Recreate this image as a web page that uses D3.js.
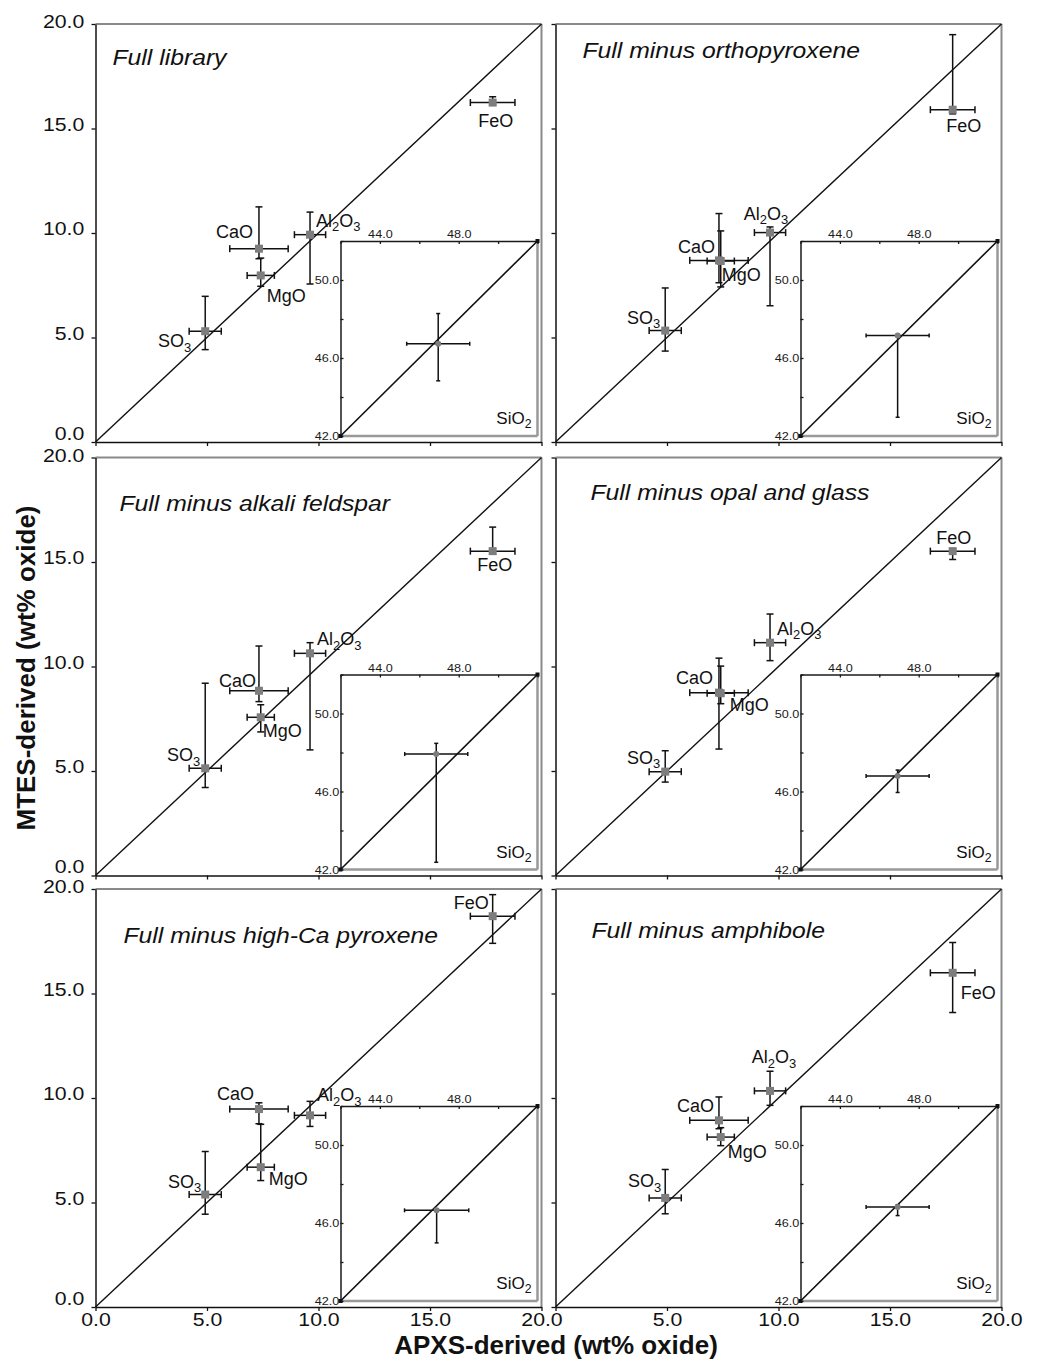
<!DOCTYPE html>
<html>
<head>
<meta charset="utf-8">
<script src="https://cdn.jsdelivr.net/npm/d3@7"></script>
<style>
  body { margin: 0; background: #fff; }
  svg { display: block; }
  text { font-family: "Liberation Sans", Arial, Helvetica, sans-serif; }
</style>
</head>
<body>
<svg id="chart" width="1041" height="1361"></svg>
<script>
// ---- data -------------------------------------------------------------
const panelTitles = [
  "Full library",
  "Full minus orthopyroxene",
  "Full minus alkali feldspar",
  "Full minus opal and glass",
  "Full minus high-Ca pyroxene",
  "Full minus amphibole"
];

const oxides = ["SO3", "CaO", "MgO", "Al2O3", "FeO"];

// APXS-derived abundances (wt% oxide) and their uncertainties
const apxsValues = [4.92, 7.33, 7.41, 9.62, 17.81];
const apxsErrors = [0.72, 1.31, 0.61, 0.70, 1.00];

// MTES-derived abundances for each library, in oxide order
const mtesValues = [
  [5.30, 9.25, 7.97, 9.92, 16.24],
  [5.33, 8.69, 8.66, 10.02, 15.90],
  [5.13, 8.84, 7.57, 10.63, 15.52],
  [4.97, 8.75, 8.72, 11.14, 15.52],
  [5.38, 9.47, 6.69, 9.17, 18.70],
  [5.22, 8.93, 8.13, 10.34, 15.99]
];
const mtesErrPlus = [
  [1.67, 2.00, 0.83, 1.08, 0.28],
  [2.04, 2.24, 1.44, 0.27, 3.59],
  [4.07, 2.14, 0.60, 0.51, 1.15],
  [1.00, 1.65, 1.30, 1.37, 0.10],
  [2.06, 0.30, 2.05, 0.67, 1.03],
  [1.36, 1.12, 0.45, 0.94, 1.45]
];
const mtesErrMinus = [
  [0.88, 0.48, 0.52, 2.36, 0.10],
  [0.98, 1.07, 1.24, 3.50, 0.20],
  [0.92, 0.52, 0.70, 4.62, 0.15],
  [0.50, 2.70, 0.50, 0.86, 0.40],
  [0.94, 0.70, 0.64, 0.53, 1.30],
  [0.76, 0.40, 0.41, 0.69, 1.90]
];

// SiO2 (inset)
const apxsSiO2 = [46.96, 46.93, 46.86, 46.93, 46.88, 46.93];
const apxsSiO2Err = [1.60, 1.60, 1.60, 1.60, 1.63, 1.60];
const mtesSiO2 = [46.73, 47.15, 47.92, 46.80, 46.65, 46.82];
const mtesSiO2Plus = [1.55, 0.05, 0.55, 0.30, 0.05, 0.12];
const mtesSiO2Minus = [1.90, 4.19, 5.55, 0.85, 1.67, 0.44];

const axisTicks = [0, 5, 10, 15, 20];
const insetTicks = [42, 44, 46, 48, 50, 52];
const insetXTickLabels = [44, 48];
const insetYTickLabels = [42, 46, 50];

// ---- layout ----------------------------------------------------------
const colX = [95.5, 555.5];
const rowY = [24, 457.5, 889];
const W = 446, H = 418;
const inset = { left: 245, top: 217, width: 197, height: 195 };

// title anchor (relative to panel) per panel
const titlePos = [[17, 41], [27, 34], [24, 53], [35, 42], [28, 54], [36, 49]];

// oxide label offsets from the marker: [dx, dy, anchor], in oxide order
const labelOffsets = [
  [[-14, 16, "end"], [-6, -11, "end"], [6, 27, "start"], [6, -8, "start"], [3, 24, "middle"]],
  [[-5, -7, "end"], [-4, -7, "end"], [1, 20, "start"], [-4, -13, "middle"], [11, 22, "middle"]],
  [[-5, -7, "end"], [-3, -4, "end"], [2, 20, "start"], [7, -8, "start"], [2, 20, "middle"]],
  [[-5, -8, "end"], [-6, -9, "end"], [9, 18, "start"], [7, -8, "start"], [1, -7, "middle"]],
  [[-4, -7, "end"], [-5, -9, "end"], [8, 18, "start"], [7, -14, "start"], [-4, -7, "end"]],
  [[-4, -11, "end"], [-5, -8, "end"], [7, 21, "start"], [4, -28, "middle"], [8, 26, "start"]]
];

const fmt = d3.format(".1f");
const GRAY_BORDER = "#8a8a8a";
const MARK = "#7d7d7d";

const svg = d3.select("#chart");

// chemical formula with subscripted digits
function writeFormula(textSel, str, size) {
  const parts = str.match(/[A-Za-z]+|\d+/g);
  let sub = false;
  parts.forEach(p => {
    const t = textSel.append("tspan").text(p);
    if (/\d/.test(p)) {
      t.attr("font-size", size * 0.72).attr("dy", sub ? 0 : size * 0.26);
      sub = true;
    } else if (sub) {
      t.attr("dy", -size * 0.26);
      sub = false;
    }
  });
}

function errorBar(g, x1, y1, x2, y2, cap, vertical, width) {
  g.append("line").attr("x1", x1).attr("y1", y1).attr("x2", x2).attr("y2", y2)
    .attr("stroke", "#111").attr("stroke-width", width);
  [[x1, y1], [x2, y2]].forEach(([cx, cy]) => {
    if (vertical) {
      g.append("line").attr("x1", cx - cap).attr("x2", cx + cap).attr("y1", cy).attr("y2", cy)
        .attr("stroke", "#111").attr("stroke-width", width);
    } else {
      g.append("line").attr("x1", cx).attr("x2", cx).attr("y1", cy - cap).attr("y2", cy + cap)
        .attr("stroke", "#111").attr("stroke-width", width);
    }
  });
}

function styleAxis(g, size, sx, color) {
  g.attr("font-size", size).attr("font-family", null);
  g.selectAll("path.domain").attr("stroke", color || "#111").attr("stroke-width", 1.5);
  g.selectAll(".tick line").attr("stroke", color || "#111").attr("stroke-width", 1.3);
  g.selectAll(".tick text").attr("fill", color || "#111").attr("transform", `scale(${sx},1)`);
}

panelTitles.forEach((title, p) => {
  const col = p % 2, row = Math.floor(p / 2);
  const g = svg.append("g").attr("transform", `translate(${colX[col]},${rowY[row]})`);

  const x = d3.scaleLinear().domain([0, 20]).range([0, W]);
  const y = d3.scaleLinear().domain([0, 20]).range([H, 0]);

  // top and right frame
  g.append("line").attr("x1", 0).attr("x2", W).attr("y1", 0).attr("y2", 0)
    .attr("stroke", GRAY_BORDER).attr("stroke-width", 2);
  g.append("line").attr("x1", W).attr("x2", W).attr("y1", 0).attr("y2", H)
    .attr("stroke", GRAY_BORDER).attr("stroke-width", 2);

  // axes
  const yAxis = d3.axisLeft(y).tickValues(axisTicks).tickSize(4).tickPadding(6).tickSizeOuter(0)
    .tickFormat(col === 0 ? fmt : () => "");
  const ya = g.append("g").call(yAxis);
  styleAxis(ya, 19, 1.12);
  ya.selectAll(".tick text").attr("dy", d => d === 0 ? "-0.15em" : (d === 20 ? "0.2em" : "0.1em"));

  const xAxis = d3.axisBottom(x).tickValues(axisTicks).tickSize(4).tickPadding(2).tickSizeOuter(0)
    .tickFormat(row === 2 ? (d => (col === 1 && d === 0) ? "" : fmt(d)) : () => "");
  const xa = g.append("g").attr("transform", `translate(0,${H})`).call(xAxis);
  styleAxis(xa, 19, 1.12);

  // 1:1 line
  g.append("line").attr("x1", x(0)).attr("y1", y(0)).attr("x2", x(20)).attr("y2", y(20))
    .attr("stroke", "#111").attr("stroke-width", 1.4);

  // title
  g.append("text").attr("transform", `translate(${titlePos[p][0]},${titlePos[p][1]}) scale(1.15,1)`)
    .attr("font-size", 21.5).attr("font-style", "italic").attr("fill", "#111").text(title);

  // data points with error bars
  const pts = g.append("g");
  oxides.forEach((ox, i) => {
    const cx = x(apxsValues[i]), cy = y(mtesValues[p][i]);
    errorBar(pts, x(apxsValues[i] - apxsErrors[i]), cy, x(apxsValues[i] + apxsErrors[i]), cy, 3.5, false, 1.5);
    errorBar(pts, cx, y(mtesValues[p][i] + mtesErrPlus[p][i]), cx, y(mtesValues[p][i] - mtesErrMinus[p][i]), 3.5, true, 1.5);
  });
  oxides.forEach((ox, i) => {
    const cx = x(apxsValues[i]), cy = y(mtesValues[p][i]);
    pts.append("rect").attr("x", cx - 4).attr("y", cy - 4).attr("width", 8).attr("height", 8)
      .attr("fill", MARK);
    const [dx, dy, anchor] = labelOffsets[p][i];
    const t = g.append("text").attr("x", cx + dx).attr("y", cy + dy)
      .attr("text-anchor", anchor).attr("font-size", 18).attr("fill", "#111");
    writeFormula(t, ox, 18);
  });

  // SiO2 inset
  const ig = g.append("g").attr("transform", `translate(${inset.left},${inset.top})`);
  const ix = d3.scaleLinear().domain([42, 52]).range([0, inset.width]);
  const iy = d3.scaleLinear().domain([42, 52]).range([inset.height, 0]);
  ig.append("rect").attr("width", inset.width).attr("height", inset.height).attr("fill", "#fff");
  ig.append("line").attr("x1", inset.width).attr("x2", inset.width).attr("y1", 0).attr("y2", inset.height)
    .attr("stroke", "#999").attr("stroke-width", 2.5);
  ig.append("line").attr("x1", 0).attr("x2", inset.width).attr("y1", inset.height).attr("y2", inset.height)
    .attr("stroke", "#999").attr("stroke-width", 2.5);

  const ixa = ig.append("g").call(d3.axisTop(ix).tickValues(insetTicks).tickSize(-3).tickPadding(3)
    .tickSizeOuter(0).tickFormat(d => insetXTickLabels.includes(d) ? fmt(d) : ""));
  styleAxis(ixa, 11.5, 1.1, "#1a1a1a");
  const iya = ig.append("g").call(d3.axisLeft(iy).tickValues(insetTicks).tickSize(-3).tickPadding(1)
    .tickSizeOuter(0).tickFormat(d => insetYTickLabels.includes(d) ? fmt(d) : ""));
  styleAxis(iya, 11.5, 1.1, "#1a1a1a");

  ig.append("line").attr("x1", ix(42)).attr("y1", iy(42)).attr("x2", ix(52)).attr("y2", iy(52))
    .attr("stroke", "#111").attr("stroke-width", 1.6);
  [[42, 42], [52, 52]].forEach(([a, b]) => {
    ig.append("rect").attr("x", ix(a) - 2).attr("y", iy(b) - 2).attr("width", 4).attr("height", 4).attr("fill", "#111");
  });

  const sx = ix(apxsSiO2[p]), sy = iy(mtesSiO2[p]);
  errorBar(ig, ix(apxsSiO2[p] - apxsSiO2Err[p]), sy, ix(apxsSiO2[p] + apxsSiO2Err[p]), sy, 2, false, 1.5);
  errorBar(ig, sx, iy(mtesSiO2[p] + mtesSiO2Plus[p]), sx, iy(mtesSiO2[p] - mtesSiO2Minus[p]), 2, true, 1.5);
  ig.append("circle").attr("cx", sx).attr("cy", sy).attr("r", 3).attr("fill", MARK);

  const st = ig.append("text").attr("x", inset.width - 6).attr("y", inset.height - 12)
    .attr("text-anchor", "end").attr("font-size", 17).attr("fill", "#111");
  writeFormula(st, "SiO2", 17);
});

// axis titles
svg.append("text").attr("transform", "translate(35,668) rotate(-90)")
  .attr("text-anchor", "middle").attr("font-size", 26).attr("font-weight", "bold").attr("fill", "#111")
  .text("MTES-derived (wt% oxide)");
svg.append("text").attr("x", 556).attr("y", 1354)
  .attr("text-anchor", "middle").attr("font-size", 26).attr("font-weight", "bold").attr("fill", "#111")
  .text("APXS-derived (wt% oxide)");
</script>
</body>
</html>
